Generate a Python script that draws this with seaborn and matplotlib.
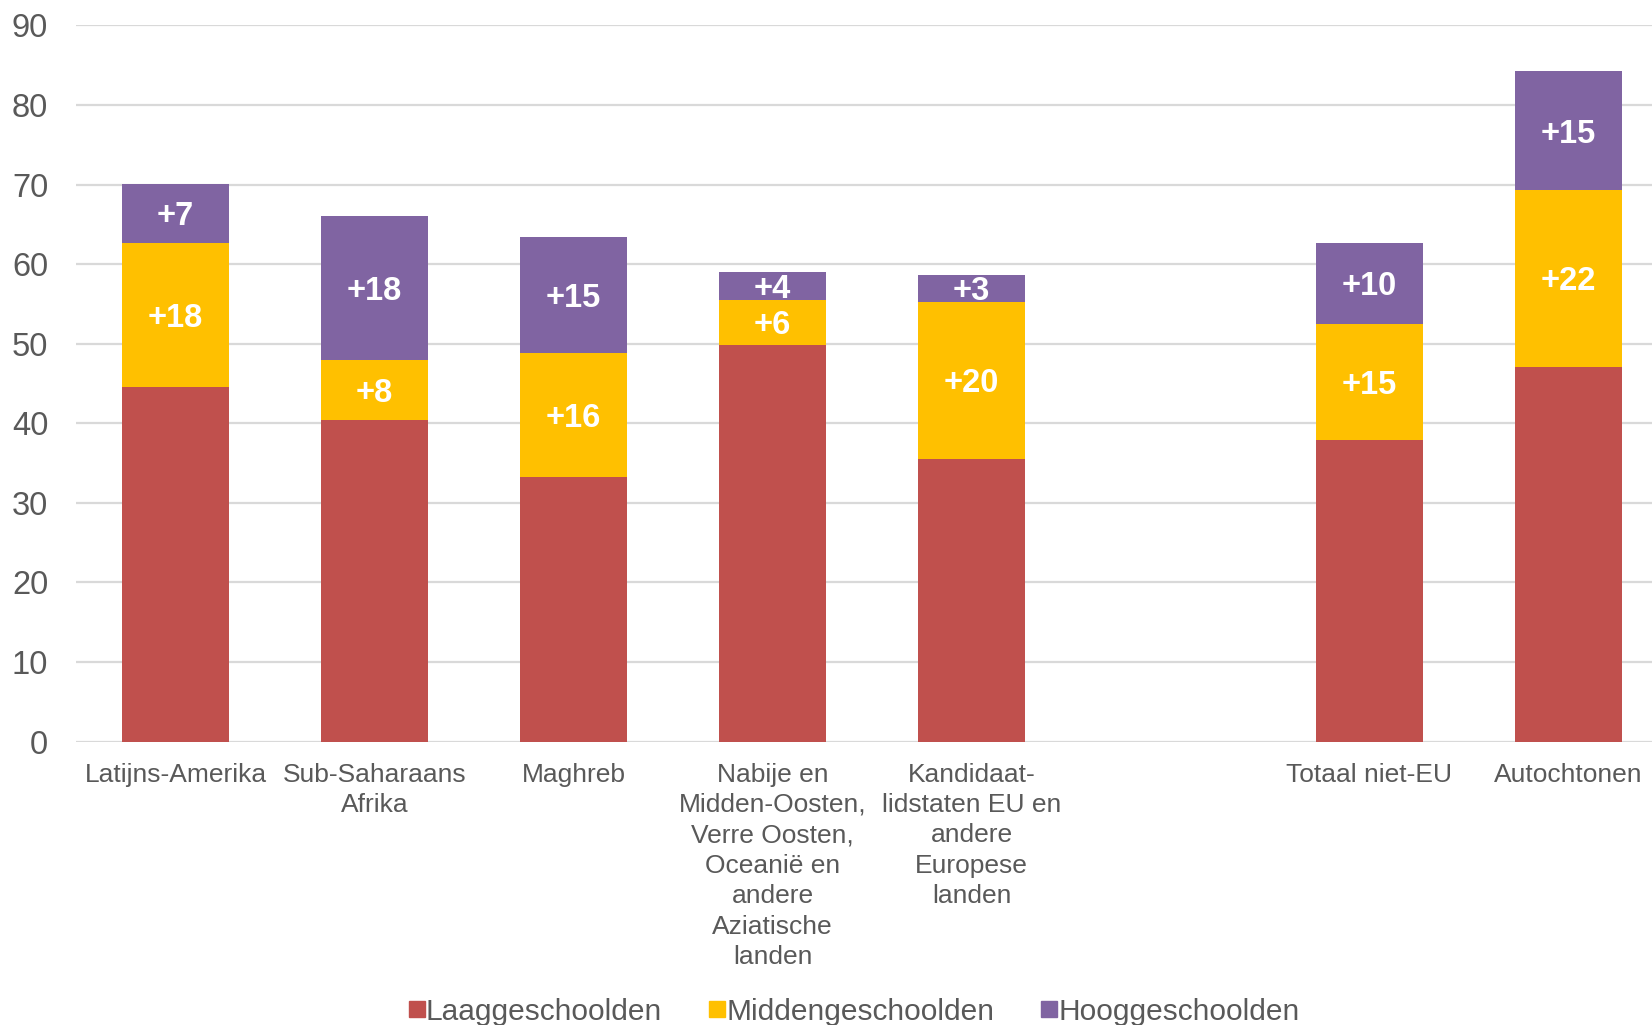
import pandas as pd
import seaborn as sns
import matplotlib.pyplot as plt
from matplotlib.lines import Line2D

# categories (empty slot between the regions and the totals)
categories = ["Latijns-Amerika", "Sub-Saharaans\nAfrika", "Maghreb",
              "Nabije en\nMidden-Oosten,\nVerre Oosten,\nOceanië en\nandere\nAziatische\nlanden",
              "Kandidaat-\nlidstaten EU en\nandere\nEuropese\nlanden",
              " ", "Totaal niet-EU", "Autochtonen"]
present = [c for c in categories if c.strip()]

laag = [44.6, 40.4, 33.2, 49.9, 35.5, 37.9, 47.1]
midden = [18.1, 7.6, 15.6, 5.6, 19.8, 14.6, 22.2]
hoog = [7.4, 18.0, 14.6, 3.5, 3.3, 10.2, 14.9]

midden_labels = ["+18", "+8", "+16", "+6", "+20", "+15", "+22"]
hoog_labels = ["+7", "+18", "+15", "+4", "+3", "+10", "+15"]

series_names = ["Laaggeschoolden", "Middengeschoolden", "Hooggeschoolden"]
colors = ["#C0504D", "#FFC000", "#8064A2"]
text_color = "#595959"

sns.set_style("white")
plt.rcParams["font.family"] = ["Liberation Sans", "DejaVu Sans"]

df = pd.DataFrame({"cat": present, "laag": laag, "midden": midden, "hoog": hoog})
df["lm"] = df["laag"] + df["midden"]
df["tot"] = df["lm"] + df["hoog"]

fig = plt.figure(figsize=(16.52, 10.25), dpi=100)
ax = fig.add_axes([76 / 1652, 0.2764, 1592 / 1652, 0.6989])

# stacked by overdrawing cumulative totals
for col, c in zip(["tot", "lm", "laag"], colors[::-1]):
    sns.barplot(data=df, x="cat", y=col, order=categories, color=c,
                saturation=1, width=0.54, linewidth=0, errorbar=None, ax=ax)

pos = {c: i for i, c in enumerate(categories)}
for _, r in df.iterrows():
    i = pos[r["cat"]]
    k = present.index(r["cat"])
    ax.text(i, r["laag"] + r["midden"] / 2, midden_labels[k], ha="center",
            va="center_baseline", color="white", fontsize=23.5, fontweight="bold")
    ax.text(i, r["lm"] + r["hoog"] / 2, hoog_labels[k], ha="center",
            va="center_baseline", color="white", fontsize=23.5, fontweight="bold")

ax.set_ylim(0, 90)
ax.set_xlim(-0.5, len(categories) - 0.5)
ax.set_yticks(range(0, 91, 10))
ax.yaxis.grid(True, color="#D9D9D9", linewidth=1.6)
ax.set_axisbelow(True)
for s in ax.spines.values():
    s.set_visible(False)
ax.set_xlabel("")
ax.set_ylabel("")
ax.tick_params(axis="y", length=0, pad=20, labelsize=23.5, labelcolor=text_color)
ax.tick_params(axis="x", length=0, pad=15, labelsize=19, labelcolor=text_color)
for lbl in ax.get_xticklabels():
    lbl.set_linespacing(1.34)

handles = [Line2D([], [], marker="s", linestyle="", markersize=11, color=c) for c in colors]
fig.legend(handles, series_names, loc="center", bbox_to_anchor=(0.514, 0.013), ncol=3,
           frameon=False, fontsize=21.5, labelcolor=text_color, handletextpad=-0.3,
           handlelength=1.2, columnspacing=1.25, borderaxespad=0)

fig.savefig("out.png", dpi=100)
